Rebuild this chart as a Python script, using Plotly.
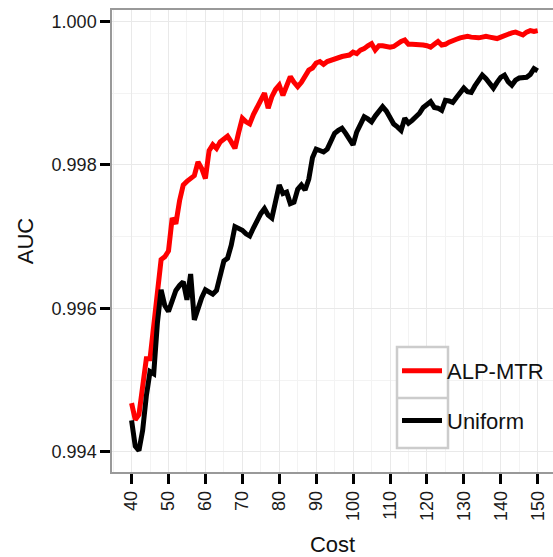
import plotly.graph_objects as go

cost = list(range(40, 151))

alp_mtr = [
    0.99468, 0.99445, 0.99452, 0.99490, 0.99530, 0.99530, 0.99580, 0.99620, 0.99668, 0.99672,
    0.99680, 0.99726, 0.99718, 0.99750, 0.99772, 0.99777, 0.99780, 0.99785, 0.99804, 0.99795,
    0.99781, 0.99820, 0.99828, 0.99823, 0.99832, 0.99836, 0.99840, 0.99832, 0.99823, 0.99845,
    0.99865, 0.99860, 0.99857, 0.99870, 0.99880, 0.99890, 0.99900, 0.99879, 0.99895, 0.99905,
    0.99911, 0.99897, 0.99912, 0.99923, 0.99915, 0.99909, 0.99915, 0.99925, 0.99932, 0.99935,
    0.99942, 0.99944, 0.99940, 0.99944, 0.99946, 0.99948, 0.99950, 0.99951, 0.99952, 0.99953,
    0.99957, 0.99955, 0.99960, 0.99962, 0.99966, 0.99969, 0.99960, 0.99966, 0.99966, 0.99965,
    0.99964, 0.99965, 0.99969, 0.99972, 0.99974, 0.99968, 0.99968, 0.99968, 0.99968, 0.99967,
    0.99966, 0.99964, 0.99968, 0.99972, 0.99967, 0.99968, 0.99971, 0.99974, 0.99975, 0.99977,
    0.99978, 0.99979, 0.99978, 0.99977, 0.99977, 0.99978, 0.99979, 0.99978, 0.99977, 0.99976,
    0.99978, 0.99981, 0.99982, 0.99984, 0.99985, 0.99983, 0.99981, 0.99985, 0.99987, 0.99986,
    0.99987,
]

uniform = [
    0.99444, 0.99408, 0.99402, 0.99430, 0.99478, 0.99512, 0.99509, 0.99580, 0.99626, 0.99604,
    0.99596, 0.99613, 0.99625, 0.99632, 0.99637, 0.99612, 0.99648, 0.99584, 0.99600, 0.99615,
    0.99626, 0.99622, 0.99620, 0.99625, 0.99649, 0.99666, 0.99670, 0.99688, 0.99714, 0.99712,
    0.99709, 0.99704, 0.99701, 0.99712, 0.99724, 0.99732, 0.99739, 0.99730, 0.99726, 0.99750,
    0.99772, 0.99760, 0.99762, 0.99746, 0.99748, 0.99766, 0.99772, 0.99765, 0.99780, 0.99810,
    0.99822, 0.99820, 0.99818, 0.99822, 0.99834, 0.99844, 0.99848, 0.99851, 0.99844, 0.99836,
    0.99828, 0.99846, 0.99858, 0.99867, 0.99864, 0.99860, 0.99868, 0.99876, 0.99881, 0.99875,
    0.99866, 0.99857, 0.99853, 0.99848, 0.99865, 0.99858, 0.99862, 0.99867, 0.99872, 0.99880,
    0.99885, 0.99888, 0.99880, 0.99879, 0.99876, 0.99890, 0.99889, 0.99887, 0.99894, 0.99902,
    0.99907, 0.99902, 0.99901, 0.99910, 0.99918, 0.99925, 0.99920, 0.99913, 0.99907, 0.99915,
    0.99922, 0.99925, 0.99916, 0.99911, 0.99918, 0.99921, 0.99921, 0.99922, 0.99926, 0.99934,
    0.99931,
]

series_names = ["ALP-MTR", "Uniform"]
series_colors = ["#ff0000", "#000000"]
x_ticks = list(range(40, 151, 10))
y_ticks = [0.994, 0.996, 0.998, 1.000]

FONT = "Arial, Liberation Sans, sans-serif"

fig = go.Figure()
for name, vals, col in zip(series_names, [alp_mtr, uniform], series_colors):
    fig.add_trace(go.Scatter(
        x=cost, y=vals, mode="lines", name=name, legendgroup=name,
        line=dict(color=col, width=5),
    ))

# plot area in pixels: left 112, right 553, top 10, bottom 472
L, R, T, B = 112, 553, 10, 472
def px(x):
    return (x - L) / (R - L)
def py(y):
    return (B - y) / (B - T)

shapes = [
    dict(type="rect", xref="paper", yref="paper", x0=px(397), x1=px(448), y0=py(448), y1=py(347),
         line=dict(color="#cccccc", width=2.5), fillcolor="white", layer="above"),
    dict(type="line", xref="paper", yref="paper", x0=px(397), x1=px(448), y0=py(398), y1=py(398),
         line=dict(color="#cccccc", width=2.5), layer="above"),
]

fig.update_layout(
    width=553, height=557,
    margin=dict(l=L, r=0, t=T, b=557 - B),
    paper_bgcolor="white", plot_bgcolor="white",
    font=dict(family=FONT, color="#1a1a1a"),
    shapes=shapes,
    showlegend=True,
    legend=dict(
        x=px(397), y=py(350), xanchor="left", yanchor="top",
        bgcolor="rgba(0,0,0,0)", borderwidth=0,
        font=dict(size=22, family=FONT, color="#111111"),
        itemwidth=40, tracegroupgap=18, traceorder="grouped",
    ),
    xaxis=dict(
        range=[34.7, 154.15], tickmode="array", tickvals=x_ticks, ticktext=[str(v) for v in x_ticks],
        tickangle=-90, ticks="outside", ticklen=10, tickwidth=3, tickcolor="black",
        tickfont=dict(size=18, family=FONT, color="#1a1a1a"),
        showline=True, linecolor="#999999", linewidth=1.5, mirror=True,
        showgrid=True, gridcolor="#e9e9e9", gridwidth=1.3, zeroline=False,
        minor=dict(dtick=5, tick0=35, showgrid=True, gridcolor="#f3f3f3", gridwidth=1, ticks=""),
        title=dict(text="Cost", font=dict(size=22, family=FONT, color="#111111"), standoff=17),
    ),
    yaxis=dict(
        range=[0.993721, 1.000158], tickmode="array", tickvals=y_ticks,
        ticktext=[f"{v:.3f}" for v in y_ticks],
        ticks="outside", ticklen=10, tickwidth=3, tickcolor="black",
        tickfont=dict(size=18, family=FONT, color="#1a1a1a"),
        showline=True, linecolor="#999999", linewidth=1.5, mirror=False,
        showgrid=True, gridcolor="#e9e9e9", gridwidth=1.3, zeroline=False,
        minor=dict(dtick=0.001, tick0=0.993, showgrid=True, gridcolor="#f3f3f3", gridwidth=1, ticks=""),
        title=dict(text="AUC", font=dict(size=22, family=FONT, color="#111111"), standoff=12),
    ),
)

fig.write_html("out.html")
